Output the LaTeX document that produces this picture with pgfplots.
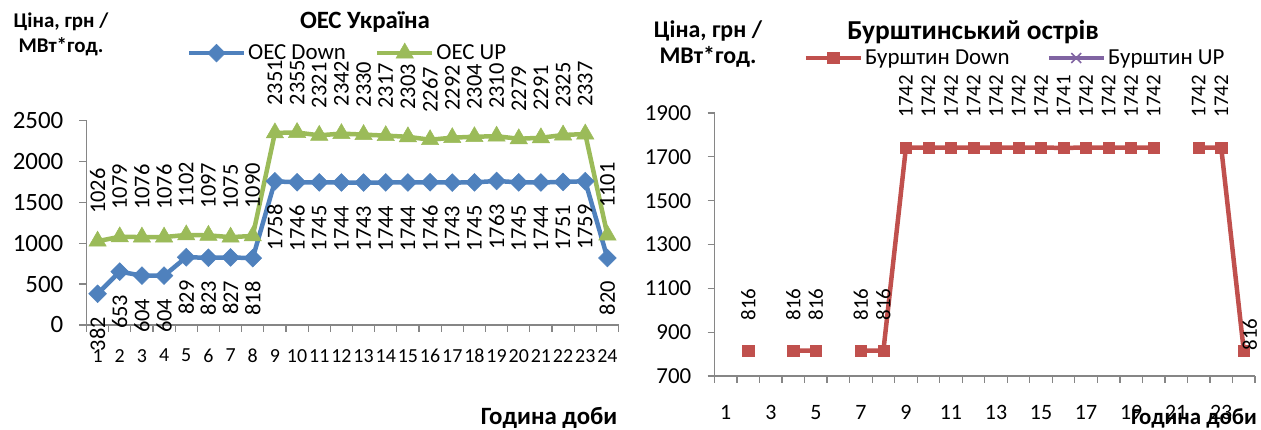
\documentclass[border=0pt]{standalone}
\usepackage{pgfplots}
\usepackage{pgfplotstable}
\pgfplotsset{compat=1.18}
\usepackage{fontspec}
\setmainfont{Carlito}
\definecolor{cblue}{HTML}{4F81BD}
\definecolor{cgreen}{HTML}{9BBB59}
\definecolor{cred}{HTML}{C0504D}
\definecolor{cpurple}{HTML}{8064A2}
\definecolor{caxis}{HTML}{868686}
\newcommand{\fs}[1]{\fontsize{#1}{#1}\selectfont}

\pgfplotstableread{
h down up
1 382 1026
2 653 1079
3 604 1076
4 604 1076
5 829 1102
6 823 1097
7 827 1075
8 818 1090
9 1758 2351
10 1746 2355
11 1745 2321
12 1744 2342
13 1743 2330
14 1744 2317
15 1744 2303
16 1746 2267
17 1743 2292
18 1745 2304
19 1763 2310
20 1745 2279
21 1744 2291
22 1751 2325
23 1759 2337
24 820 1101
}\oes

\pgfplotstableread{
h down
1 nan
2 816
3 nan
4 816
5 816
6 nan
7 816
8 816
9 1742
10 1742
11 1742
12 1742
13 1742
14 1742
15 1742
16 1741
17 1742
18 1742
19 1742
20 1742
21 nan
22 1742
23 1742
24 816
}\burst

\pgfplotsset{
  excelaxis/.style={
    scale only axis, clip=false,
    axis x line*=bottom, axis y line*=left,
    axis line style={draw=caxis, line width=1.3bp},
    tick align=outside, major tick length=7bp,
    tick style={draw=caxis, line width=1.3bp},
    xmin=0.5, xmax=24.5,
    xtick={0.5,1.5,...,24.5},
    /pgf/number format/assume math mode=true,
    /pgf/number format/1000 sep={},
    unbounded coords=jump,
    legend columns=2,
    legend style={draw=none, fill=none, anchor=center, /tikz/every even column/.append style={column sep=27bp}},
    legend image code/.code={\draw[##1, mark repeat=2, mark phase=2] plot coordinates {(0bp,0bp) (27.5bp,0bp) (55bp,0bp)};},
  },
}

\begin{document}
\begin{tikzpicture}
\path[use as bounding box] (0,0) rectangle (1261bp,430bp);

\begin{axis}[excelaxis,
  at={(86.5bp,105bp)}, anchor=south west,
  width=532bp, height=204.3bp,
  ymin=0, ymax=2500, ytick={0,500,...,2500},
  xticklabels={1,2,3,4,5,6,7,8,9,10,11,12,13,14,15,16,17,18,19,20,21,22,23,24,{}},
  xticklabel style={font=\fs{20}, inner sep=0pt, anchor=north, xshift=11.08bp, yshift=-17bp},
  yticklabel style={font=\fs{25}, inner sep=0pt, anchor=east, xshift=-16bp},
  legend style={at={(0.4906,1.331)}, font=\fs{23}},
]
\addplot[cblue, line width=4.5bp, mark=square*, mark size=6.3bp, mark options={rotate=45, line width=0.5bp},
  nodes near coords, nodes near coords style={font=\fs{22.5}, text=black, rotate=90, anchor=east, inner sep=0pt, xshift=-23bp}]
  table[x=h, y=down] {\oes};
\addlegendentry{ОЕС Down}
\addplot[cgreen, line width=4.5bp, mark=triangle*, mark size=10bp, mark options={line width=0.5bp},
  nodes near coords, nodes near coords style={font=\fs{22.5}, text=black, rotate=90, anchor=west, inner sep=0pt, xshift=27bp}]
  table[x=h, y=up] {\oes};
\addlegendentry{ОЕС UP}
\end{axis}

\begin{axis}[excelaxis,
  at={(714.5bp,54bp)}, anchor=south west,
  width=540.5bp, height=263bp,
  ymin=700, ymax=1900, ytick={700,900,...,1900},
  xticklabels={1,{},3,{},5,{},7,{},9,{},11,{},13,{},15,{},17,{},19,{},21,{},23,{},{}},
  xticklabel style={font=\fs{22}, inner sep=0pt, anchor=north, xshift=11.26bp, yshift=-22bp},
  yticklabel style={font=\fs{23}, inner sep=0pt, anchor=east, xshift=-16bp},
  legend style={at={(0.556,1.209)}, font=\fs{23}, /tikz/every even column/.append style={column sep=35bp}},
]
\addplot[cred, line width=4.5bp, mark=square*, mark size=5.6bp, mark options={line width=0.5bp}]
  table[x=h, y=down] {\burst};
\addlegendentry{Бурштин Down}
\addlegendimage{cpurple, line width=4.5bp, mark=x, mark size=7bp, mark options={line width=1.5bp}}
\addlegendentry{Бурштин UP}
\addplot[draw=none, mark=none, forget plot, restrict x to domain=1:23,
  nodes near coords, nodes near coords style={font=\fs{21}, text=black, rotate=90, anchor=west, inner sep=0pt, xshift=30bp}]
  table[x=h, y=down] {\burst};
\addplot[draw=none, mark=none, forget plot, restrict x to domain=24:24,
  nodes near coords, nodes near coords style={font=\fs{21}, text=black, rotate=90, anchor=west, inner sep=0pt, yshift=-6bp}]
  table[x=h, y=down] {\burst};
\end{axis}

\node[font=\bfseries\fs{25}] at (365bp,408bp) {ОЕС Україна};
\node[font=\bfseries\fontsize{21}{25}\selectfont, align=center] at (61bp,396bp) {Ціна, грн /\\МВт*год.};
\node[font=\bfseries\fs{25}] at (549bp,12bp) {Година доби};
\node[font=\bfseries\fs{27.5}] at (973bp,398bp) {Бурштинський острів};
\node[font=\bfseries\fontsize{24}{27}\selectfont, align=center] at (708bp,386bp) {Ціна, грн /\\МВт*год.};
\node[font=\bfseries\fs{23}] at (1194bp,12bp) {Година доби};
\end{tikzpicture}
\end{document}
